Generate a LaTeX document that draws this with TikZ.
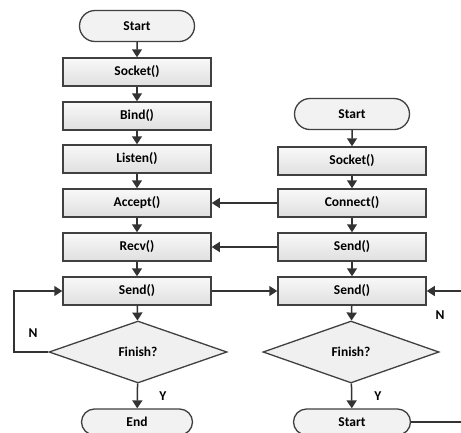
\documentclass[tikz,border=0pt]{standalone}
\usepackage{fontspec}
\setmainfont{Carlito}
\usetikzlibrary{arrows.meta,shapes.geometric,shapes.misc}
\tikzset{>={Triangle[width=10pt,length=8pt]}}
\tikzset{
	flowbox/.style={draw=black!75, line width=1.5pt, top color=gray!5, bottom color=gray!25, minimum width=148pt, minimum height=28pt, inner sep=0pt},
	terminal/.style={draw=black!75, line width=1.3pt, fill=gray!10, rounded rectangle, minimum width=115pt, minimum height=31pt, inner sep=0pt},
	decide/.style={draw=black!75, line width=1.3pt, fill=gray!12, diamond, minimum width=178pt, minimum height=62pt, inner sep=0pt},
	flowline/.style={draw=black!80, line width=1.5pt}
}

\begin{document}
\begin{tikzpicture}[x=1pt, y=-1pt]
		\useasboundingbox (0,0) rectangle (461,432);
		\begin{scope}[every node/.append style={font=\fontsize{13.5}{15}\selectfont\bfseries}]
			% server side
			\node[terminal] (s0) at (137, 26) {Start};
			\node[flowbox] (s1) at (137, 72) {Socket()};
			\node[flowbox] (s2) at (137, 116) {Bind()};
			\node[flowbox] (s3) at (137, 159) {Listen()};
			\node[flowbox] (s4) at (137, 203) {Accept()};
			\node[flowbox] (s5) at (137, 247) {Recv()};
			\node[flowbox] (s6) at (137, 291) {Send()};
			\node[decide] (s7) at (138, 352) {Finish?};
			\node[terminal, minimum width=111pt, minimum height=26pt] (s8) at (137, 422) {End};
			% client side
			\node[terminal] (c0) at (352, 114) {Start};
			\node[flowbox] (c1) at (352, 161) {Socket()};
			\node[flowbox] (c2) at (352, 203) {Connect()};
			\node[flowbox] (c3) at (352, 247) {Send()};
			\node[flowbox] (c4) at (352, 291) {Send()};
			\node[decide, minimum width=176pt] (c5) at (351, 352) {Finish?};
			\node[terminal, minimum width=117pt, minimum height=26pt] (c6) at (352, 422) {Start};
		\end{scope}

		\coordinate (lp1) at (14, 352);
		\coordinate (lp2) at (14, 291);
		\coordinate (rin) at (461, 291);
		\coordinate (rout) at (461, 422);

		\foreach \a/\b in {s0/s1, s1/s2, s2/s3, s3/s4, s4/s5, s5/s6, s6/s7, s7/s8, c0/c1, c1/c2, c2/c3, c3/c4, c4/c5, c5/c6}
			\draw[flowline, ->] (\a) -- (\b);

		\draw[flowline, ->] (c2) -- (s4);
		\draw[flowline, ->] (c3) -- (s5);
		\draw[flowline, ->] (s6) -- (c4);
		\draw[flowline, ->] (s7.west) -- (lp1) -- (lp2) -- (s6.west);
		\draw[flowline, ->] (rin) -- (c4.east);
		\draw[flowline] (c6.east) -- (rout);

		\begin{scope}[every node/.append style={font=\fontsize{13.5}{15}\selectfont\bfseries}]
			\node (n1) at (33, 333) {N};
			\node (n2) at (440, 315) {N};
			\node (y1) at (163, 396) {Y};
			\node (y2) at (378, 396) {Y};
		\end{scope}
	\end{tikzpicture}
\end{document}
